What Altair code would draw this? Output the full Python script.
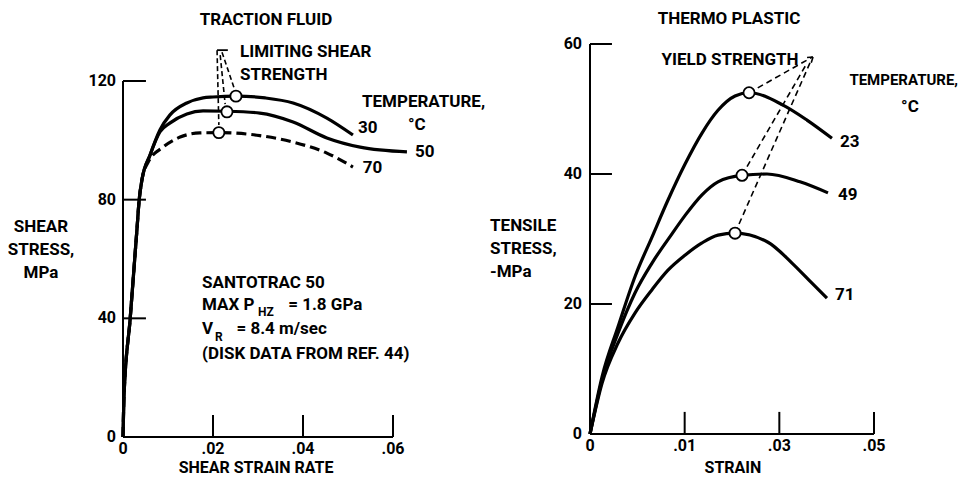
import altair as alt
import pandas as pd

FONT = "Roboto, Liberation Sans, sans-serif"

# ---------------- LEFT PANEL: traction fluid ----------------
rate_common = [0.0, 0.0002, 0.0016, 0.0031, 0.0036, 0.0042]
stress_common = [0.0, 13.0, 40.0, 70.0, 80.0, 86.6]

rate_30 = [0.0060, 0.0082, 0.0104, 0.0142, 0.0178, 0.0200, 0.0251, 0.0316, 0.0378, 0.0453, 0.0511]
stress_30 = [95.0, 103.5, 108.5, 112.6, 114.3, 114.6, 114.9, 114.3, 112.6, 107.5, 101.8]

rate_50 = [0.0060, 0.0082, 0.0104, 0.0142, 0.0178, 0.0231, 0.0304, 0.0378, 0.0453, 0.0527, 0.0631]
stress_50 = [95.0, 102.8, 105.8, 108.9, 109.9, 109.8, 109.2, 106.2, 100.8, 97.7, 96.1]

rate_70 = [0.0056, 0.0089, 0.0127, 0.0171, 0.0213, 0.0304, 0.0378, 0.0453, 0.0511]
stress_70 = [92.7, 97.7, 101.1, 102.5, 102.6, 101.6, 99.4, 95.7, 91.0]

limit_rate = [0.0251, 0.0231, 0.0213]
limit_stress = [114.9, 109.6, 102.6]

left_x_ticks = [0.02, 0.04, 0.06]
left_x_labels = ["0", ".02", ".04", ".06"]
left_x_label_pos = [0.0, 0.02, 0.04, 0.06]
left_y_ticks = [40, 80, 120]
left_y_label_pos = [0, 40, 80, 120]

# leader lines for "LIMITING SHEAR STRENGTH"
lead1_x = [0.0209, 0.0216, 0.0220]
lead1_y = [130.4, 128.7, 129.7]
lead1_x2 = [0.0213, 0.0227, 0.0247]
lead1_y2 = [105.2, 112.2, 117.6]

# ---------------- RIGHT PANEL: thermo plastic ----------------
strain_23 = [0.0, 0.127, 0.296, 0.475, 0.655, 0.824, 1.003, 1.183, 1.352, 1.532, 1.680, 2.039, 2.292, 2.556]
tens_23 = [0.0, 8.8, 16.5, 24.2, 30.3, 36.0, 41.5, 46.3, 49.8, 52.0, 52.5, 50.6, 48.3, 45.5]

strain_49 = [0.0, 0.127, 0.296, 0.475, 0.655, 0.866, 1.003, 1.183, 1.352, 1.606, 1.870, 2.218, 2.514]
tens_49 = [0.0, 8.3, 15.5, 21.7, 26.3, 30.8, 33.6, 36.8, 38.8, 39.8, 40.0, 38.8, 37.1]

strain_71 = [0.0, 0.127, 0.296, 0.475, 0.655, 0.824, 1.003, 1.183, 1.352, 1.532, 1.880, 2.134, 2.345, 2.503]
tens_71 = [0.0, 7.8, 14.0, 18.6, 22.2, 25.2, 27.5, 29.4, 30.6, 30.9, 29.5, 26.3, 23.2, 20.9]

yield_strain = [1.680, 1.606, 1.532]
yield_stress = [52.5, 39.8, 30.9]

right_x_ticks = [1, 2, 3]
right_x_labels = ["0", ".01", ".03", ".05"]
right_x_label_pos = [0, 1, 2, 3]
right_y_ticks = [20, 40, 60]
right_y_label_pos = [0, 20, 40, 60]

# leader lines for "YIELD STRENGTH" (to arrow tip) and arrowhead strokes
lead2_x = yield_strain + [2.356, 2.356]
lead2_y = yield_stress + [58.0, 58.0]
lead2_x2 = [2.350, 2.290, 2.330, 2.270, 2.330]
lead2_y2 = [58.0, 57.0, 57.3, 57.9, 56.8]

# ---------------- scales ----------------
XS1 = alt.Scale(domain=[0, 0.06], range=[115, 385])
YS1 = alt.Scale(domain=[0, 120], range=[429, 73])
XS2 = alt.Scale(domain=[0, 3], range=[582, 866])
YS2 = alt.Scale(domain=[0, 60], range=[426, 36])


def xq(f, s):
    return alt.X(f, type="quantitative", scale=s, axis=None)


def yq(f, s):
    return alt.Y(f, type="quantitative", scale=s, axis=None)


def curves_df(parts):
    rows = []
    for name, xs, ys in parts:
        for i, (a, b) in enumerate(zip(xs, ys)):
            rows.append({"x": a, "y": b, "curve": name, "o": i})
    return pd.DataFrame(rows)


def line_layer(df, xs, ys, dash=None, interp="monotone"):
    kw = dict(interpolate=interp, strokeWidth=3.2, color="black", strokeCap="butt")
    if dash:
        kw["strokeDash"] = dash
    return alt.Chart(df).mark_line(**kw).encode(
        x=xq("x", xs), y=yq("y", ys), detail="curve:N", order="o:Q")


def rules_layer(x, y, x2, y2, xs, ys, width=2.0, dash=None):
    df = pd.DataFrame({"x": x, "y": y, "x2": x2, "y2": y2})
    kw = dict(color="black", strokeWidth=width)
    if dash:
        kw["strokeDash"] = dash
    return alt.Chart(df).mark_rule(**kw).encode(
        x=xq("x", xs), y=yq("y", ys), x2="x2:Q", y2="y2:Q")


def text_layer(x, y, t, xs, ys, align="left", size=17, dx=0, dy=0, weight="bold"):
    df = pd.DataFrame({"x": x, "y": y, "t": t})
    return alt.Chart(df).mark_text(
        align=align, baseline="middle", dx=dx, dy=dy, fontSize=size,
        font=FONT, fontWeight=weight, color="black").encode(
        x=xq("x", xs), y=yq("y", ys), text="t:N")


def circles_layer(x, y, xs, ys):
    df = pd.DataFrame({"x": x, "y": y})
    return alt.Chart(df).mark_point(
        shape="circle", filled=True, fill="white", stroke="black",
        strokeWidth=1.8, size=125, opacity=1).encode(x=xq("x", xs), y=yq("y", ys))


layers = []

# ---- left panel ----
L_solid = curves_df([
    ("30", rate_common + rate_30, stress_common + stress_30),
    ("50", rate_common + rate_50, stress_common + stress_50),
])
L_dash = curves_df([("70", rate_common + rate_70, stress_common + stress_70)])

layers += [
    rules_layer([0, 0], [0, 0], [0, 0.06], [120, 0], XS1, YS1, width=2.0),
    rules_layer([0] * 3, left_y_ticks, [0.0051] * 3, left_y_ticks, XS1, YS1, width=2.0),
    rules_layer(left_x_ticks, [0] * 3, left_x_ticks, [7.4] * 3, XS1, YS1, width=2.0),
    rules_layer(lead1_x, lead1_y, lead1_x2, lead1_y2, XS1, YS1, width=1.6, dash=[5, 3]),
    rules_layer([0.0209], [130.4], [0.0233], [130.4], XS1, YS1, width=1.8),
    line_layer(L_solid, XS1, YS1),
    line_layer(L_dash, XS1, YS1, dash=[10, 5]),
    circles_layer(limit_rate, limit_stress, XS1, YS1),
    text_layer([0] * 4, left_y_label_pos, ["0", "40", "80", "120"], XS1, YS1, align="right", size=16, dx=-7),
    text_layer(left_x_label_pos, [0] * 4, left_x_labels, XS1, YS1, align="center", size=16, dy=12),
    text_layer([0.03178], [140.5], ["TRACTION FLUID"], XS1, YS1, align="center"),
    text_layer([0.0260, 0.0260], [129.8, 122.0], ["LIMITING SHEAR", "STRENGTH"], XS1, YS1),
    text_layer([0.0531], [112.9], ["TEMPERATURE,"], XS1, YS1),
    text_layer([0.0653], [105.2], ["°C"], XS1, YS1, align="center"),
    text_layer([0.0522, 0.0649, 0.0533], [104.1, 96.1, 90.7], ["30", "50", "70"], XS1, YS1),
    text_layer([-0.01822] * 3, [70.8, 63.0, 55.3], ["SHEAR", "STRESS,", "MPa"], XS1, YS1, align="center"),
    text_layer([0.02956], [-10.45], ["SHEAR STRAIN RATE"], XS1, YS1, align="center", size=16),
    text_layer([0.01756, 0.01756, 0.01756], [51.9, 44.6, 28.0],
               ["SANTOTRAC 50", "MAX P", "(DISK DATA FROM REF. 44)"], XS1, YS1),
    text_layer([0.0300], [42.0], ["HZ"], XS1, YS1, size=12),
    text_layer([0.0367], [44.6], ["= 1.8 GPa"], XS1, YS1),
    text_layer([0.01756], [36.4], ["V"], XS1, YS1),
    text_layer([0.02044], [33.7], ["R"], XS1, YS1, size=12),
    text_layer([0.0252], [36.4], ["= 8.4 m/sec"], XS1, YS1),
]

# ---- right panel ----
R_solid = curves_df([
    ("23", strain_23, tens_23),
    ("49", strain_49, tens_49),
    ("71", strain_71, tens_71),
])

layers += [
    rules_layer([0, 0], [0, 0], [0, 3], [60, 0], XS2, YS2, width=2.0),
    rules_layer([0] * 3, right_y_ticks, [0.232] * 3, right_y_ticks, XS2, YS2, width=2.0),
    rules_layer(right_x_ticks, [0] * 3, right_x_ticks, [3.4] * 3, XS2, YS2, width=2.0),
    rules_layer(lead2_x, lead2_y, lead2_x2, lead2_y2, XS2, YS2, width=1.6, dash=[6, 4]),
    line_layer(R_solid, XS2, YS2, interp="monotone"),
    circles_layer(yield_strain, yield_stress, XS2, YS2),
    text_layer([0] * 4, right_y_label_pos, ["0", "20", "40", "60"], XS2, YS2, align="right", size=16, dx=-8),
    text_layer(right_x_label_pos, [0] * 4, right_x_labels, XS2, YS2, align="center", size=16, dy=12),
    text_layer([1.468], [63.85], ["THERMO PLASTIC"], XS2, YS2, align="center"),
    text_layer([1.479], [57.5], ["YIELD STRENGTH"], XS2, YS2, align="center"),
    text_layer([2.74], [54.46], ["TEMPERATURE,"], XS2, YS2, size=15),
    text_layer([3.380], [50.3], ["°C"], XS2, YS2, align="center"),
    text_layer([2.641, 2.620, 2.588], [44.9, 36.8, 21.4], ["23", "49", "71"], XS2, YS2),
    text_layer([-1.056] * 3, [32.0, 28.46, 24.9], ["TENSILE", "STRESS,", "-MPa"], XS2, YS2),
    text_layer([1.510], [-5.2], ["STRAIN"], XS2, YS2, align="center", size=16),
]

chart = alt.layer(*layers).resolve_scale(x="independent", y="independent").properties(
    width=954, height=469,
    autosize=alt.AutoSizeParams(type="none"),
    padding=0,
    background="white",
).configure_view(stroke=None)

chart.save("out.html", embed_options={"renderer": "svg", "actions": False})
